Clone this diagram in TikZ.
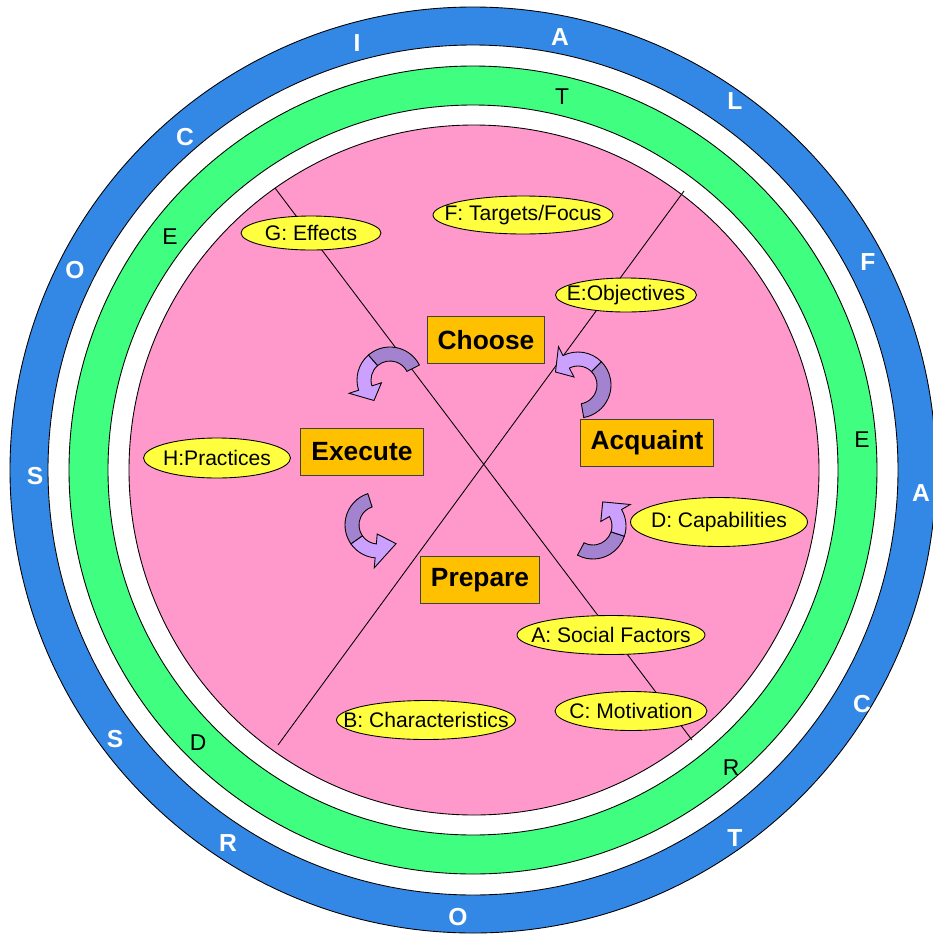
\documentclass[tikz,border=0pt]{standalone}
\usepackage{fontspec}
\setmainfont{Liberation Sans}
\usetikzlibrary{shapes.geometric}

\definecolor{ringblue}{RGB}{51,136,230}
\definecolor{ringgreen}{RGB}{64,255,128}
\definecolor{discpink}{RGB}{255,153,204}
\definecolor{factoryellow}{RGB}{255,255,64}
\definecolor{stageorange}{RGB}{255,192,0}
\definecolor{arrowdark}{RGB}{163,131,207}
\definecolor{arrowlight}{RGB}{204,160,255}

% gebogener Pfeil: Mitte x, Mitte y, Start, Knick, Spitzenbasis, Spitze
\newcommand{\bendarrow}[6]{%
  \begin{scope}[shift={(#1,#2)}]
    \filldraw[fill=arrowdark] (#3:19) -- (#3:33) arc[start angle=#3, end angle=#4, radius=33]
      -- (#4:19) arc[start angle=#4, end angle=#3, radius=19] -- cycle;
    \filldraw[fill=arrowlight] (#4:19) -- (#4:33) arc[start angle=#4, end angle=#5, radius=33]
      -- (#5:43) -- (#6:26) -- (#5:9) -- (#5:19) arc[start angle=#5, end angle=#4, radius=19] -- cycle;
  \end{scope}}

\begin{document}
\begin{tikzpicture}[x=0.02cm, y=-0.02cm, line width=0.5pt, font=\fontsize{12}{14}\selectfont,
  stage/.style={draw=black!75, fill=stageorange, inner xsep=6pt, minimum height=0.94cm,
    font=\fontsize{15}{18}\selectfont\bfseries},
  factor/.style={ellipse, draw=black, fill=factoryellow, inner sep=0pt},
  outerletter/.style={text=white, font=\fontsize{14}{16}\selectfont\bfseries},
  innerletter/.style={text=black, font=\fontsize{13}{15}\selectfont}]
	\useasboundingbox (0,0) rectangle (933,937);

	% Ringe
	\filldraw[fill=ringblue] (473,470) circle (463);
	\filldraw[fill=white] (473,470) circle (425);
	\filldraw[fill=ringgreen] (473,470) circle (404);
	\filldraw[fill=white] (473,470) circle (365);
	\filldraw[fill=discpink] (474,470) circle (345);

	% Buchstaben im blauen Ring
	\foreach \x/\y/\l [count=\i] in {35/476/S, 75/270/O, 185/137/C, 357/43/I, 560/37/A,
	    735/101/L, 868/262/F, 921/493/A, 862/704/C, 735/838/T, 458/917/O, 228/843/R, 115/739/S} {
		\node[outerletter] (outer\i) at (\x,\y) {\l};
	}
	% Buchstaben im gruenen Ring
	\foreach \x/\y/\l [count=\i] in {170/237/E, 562/97/T, 862/440/E, 731/768/R, 198/743/D} {
		\node[innerletter] (inner\i) at (\x,\y) {\l};
	}

	% Diagonalen
	\draw (275,188) -- (692,740);
	\draw (684,191) -- (278,745);

	% Pfeile
	\bendarrow{390}{380}{-27}{-131}{-198}{-232}
	\bendarrow{578}{385}{80}{-45}{-117}{-150}
	\bendarrow{378}{525}{252}{145}{95}{46}
	\bendarrow{593}{526}{118}{18}{-30}{-68}

	% Phasen
	\node[stage] (choose) at (486,340) {Choose};
	\node[stage] (execute) at (362,452) {Execute};
	\node[stage] (acquaint) at (647,443) {Acquaint};
	\node[stage] (prepare) at (480,580) {Prepare};

	% Faktoren
	\node[factor, minimum width=2.8cm, minimum height=0.68cm] (effects) at (311,233) {\makebox[0pt]{G: Effects}};
	\node[factor, minimum width=3.6cm, minimum height=0.76cm] (targets) at (523,215) {\makebox[0pt]{F: Targets/Focus}};
	\node[factor, minimum width=2.82cm, minimum height=0.68cm] (objectives) at (626,295) {\makebox[0pt]{E:Objectives}};
	\node[factor, minimum width=2.94cm, minimum height=0.8cm] (practices) at (217,458) {\makebox[0pt]{H:Practices}};
	\node[factor, minimum width=3.54cm, minimum height=0.98cm] (capabilities) at (719,522) {\makebox[0pt]{D: Capabilities}};
	\node[factor, minimum width=3.76cm, minimum height=0.78cm] (social) at (611,635) {\makebox[0pt]{A: Social Factors}};
	\node[factor, minimum width=3.58cm, minimum height=0.78cm] (characteristics) at (426,720) {\makebox[0pt]{B: Characteristics}};
	\node[factor, minimum width=3.04cm, minimum height=0.78cm] (motivation) at (631,711) {\makebox[0pt]{C: Motivation}};
\end{tikzpicture}
\end{document}
